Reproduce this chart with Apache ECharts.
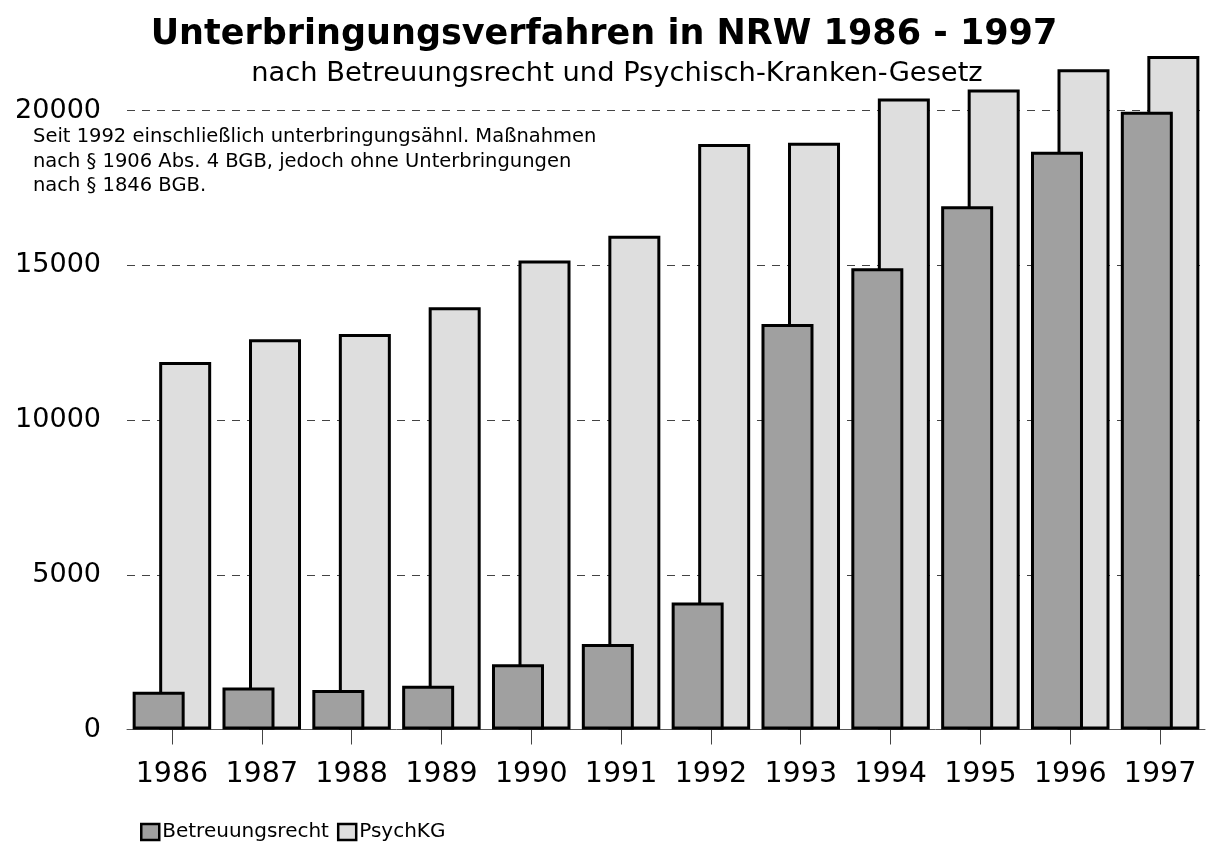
<!DOCTYPE html>
<html>
<head>
<meta charset="utf-8">
<script src="https://cdn.jsdelivr.net/npm/echarts@6/dist/echarts.min.js"></script>
<style>
  html, body { margin: 0; padding: 0; background: #fff; }
  #chart { width: 1207px; height: 842px; }
</style>
</head>
<body>
<div id="chart"></div>
<script>
const years = ['1986', '1987', '1988', '1989', '1990', '1991', '1992', '1993', '1994', '1995', '1996', '1997'];
const betreuungsrecht = [1220, 1360, 1280, 1410, 2110, 2760, 4100, 13100, 14900, 16910, 18670, 19960];
const psychKG = [11870, 12610, 12780, 13640, 15150, 15950, 18920, 18960, 20390, 20680, 21330, 21760];
const yTicks = [0, 5000, 10000, 15000, 20000];

const font = 'DejaVu Sans';
const chart = echarts.init(document.getElementById('chart'));

chart.setOption({
  backgroundColor: '#fff',
  animation: false,
  textStyle: { fontFamily: font },
  title: [
    {
      text: 'Unterbringungsverfahren in NRW 1986 - 1997',
      left: 599, top: 12, textAlign: 'center',
      textStyle: { fontFamily: font, fontSize: 35, fontWeight: 'bold', color: '#000' }
    },
    {
      text: 'nach Betreuungsrecht und Psychisch-Kranken-Gesetz',
      left: 612, top: 55, textAlign: 'center',
      textStyle: { fontFamily: font, fontSize: 27.3, fontWeight: 'normal', color: '#000' }
    },
    {
      text: 'Seit 1992 einschließlich unterbringungsähnl. Maßnahmen\nnach § 1906 Abs. 4 BGB, jedoch ohne Unterbringungen\nnach § 1846 BGB.',
      left: 28, top: 120,
      textStyle: { fontFamily: font, fontSize: 19.5, fontWeight: 'normal', color: '#000', lineHeight: 24.5 }
    }
  ],
  legend: {
    left: 135, top: 817,
    icon: 'rect',
    itemWidth: 18, itemHeight: 16, itemGap: 8,
    itemStyle: { borderColor: '#000', borderWidth: 2.5 },
    textStyle: { fontFamily: font, fontSize: 20, color: '#000', padding: [0, 0, 0, -2] },
    data: ['Betreuungsrecht', 'PsychKG']
  },
  grid: { left: 127, right: 2, top: 110.5, bottom: 112.5, containLabel: false },
  xAxis: {
    type: 'category',
    data: years,
    axisLine: { show: true, lineStyle: { color: '#555', width: 1 } },
    axisTick: { show: true, alignWithLabel: true, inside: false, length: 15, lineStyle: { color: '#444', width: 1 } },
    axisLabel: { fontFamily: font, fontSize: 28.5, color: '#000', margin: 31, interval: 0 }
  },
  yAxis: {
    type: 'value',
    min: yTicks[0], max: yTicks[yTicks.length - 1], interval: 5000,
    axisLine: { show: false },
    axisTick: { show: false },
    axisLabel: {
      fontFamily: font, fontSize: 27, color: '#000', margin: 26,
      formatter: v => String(v)
    },
    splitLine: { lineStyle: { color: '#444', width: 1, type: [8, 7] } }
  },
  series: [
    {
      name: 'Betreuungsrecht',
      type: 'bar',
      data: betreuungsrecht,
      barWidth: 52,
      barGap: '-49%',
      clip: false,
      z: 3,
      itemStyle: { color: '#a0a0a0', borderColor: '#000', borderWidth: 3 }
    },
    {
      name: 'PsychKG',
      type: 'bar',
      data: psychKG,
      barWidth: 52,
      barGap: '-49%',
      clip: false,
      z: 2,
      itemStyle: { color: '#dedede', borderColor: '#000', borderWidth: 3 }
    }
  ]
});
</script>
</body>
</html>
